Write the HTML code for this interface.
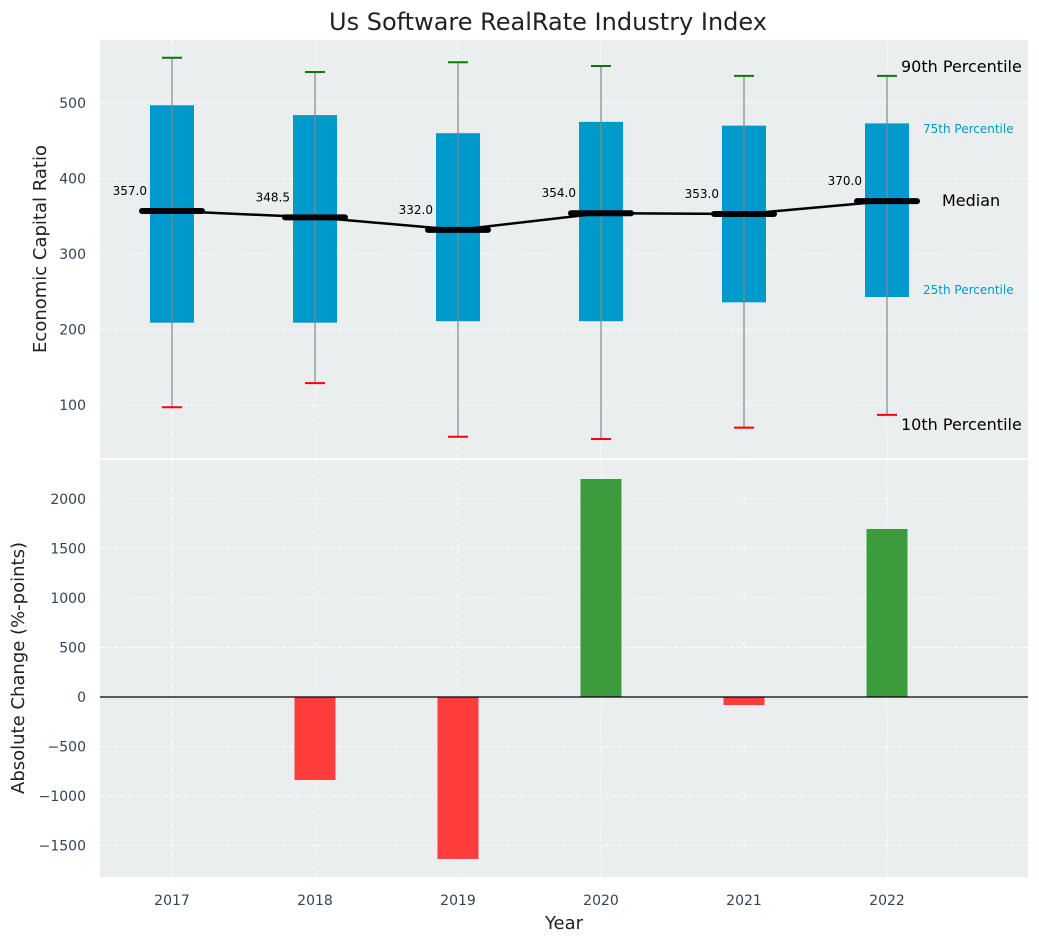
<!DOCTYPE html>
<html><head><meta charset="utf-8">
<style>
body{margin:0;background:#fff;font-family:"Liberation Sans","DejaVu Sans",sans-serif;}
svg text{font-family:"DejaVu Sans","Liberation Sans",sans-serif;}
</style></head>
<body>
<svg id="chart" width="1039" height="942" xmlns="http://www.w3.org/2000/svg">
<text x="548" y="30" text-anchor="middle" font-size="24" fill="#222">Us Software RealRate Industry Index</text>
<rect x="100" y="40" width="928" height="418" fill="#eaeeee"/>
<rect x="100" y="460" width="928" height="417" fill="#eaeeee"/>
<g id="g"></g>
<text x="46" y="249" font-size="18" fill="#222" text-anchor="middle" transform="rotate(-90 46 249)">Economic Capital Ratio</text>
<text x="24" y="668" font-size="18" fill="#222" text-anchor="middle" transform="rotate(-90 24 668)">Absolute Change (%-points)</text>
<text x="564" y="929" font-size="18" fill="#222" text-anchor="middle">Year</text>
<text x="901" y="72" font-size="16" fill="#000">90th Percentile</text>
<text x="923" y="133" font-size="12" fill="#0099cc">75th Percentile</text>
<text x="942" y="206" font-size="16" fill="#000">Median</text>
<text x="923" y="294" font-size="12" fill="#0099cc">25th Percentile</text>
<text x="901" y="430" font-size="16" fill="#000">10th Percentile</text>
</svg>
<script>
const years=[2017,2018,2019,2020,2021,2022];
const p10=[97,129,58,55,70,87];
const q1=[209,209,211,211,236,243];
const medians=[357.0,348.5,332.0,354.0,353.0,370.0];
const q3=[497,484,460,475,470,473];
const p90=[560,541,554,549,536,536];
const changes=[0,-838,-1636,2202,-81,1697];
const topTicks=[100,200,300,400,500];
const bottomTicks=[-1500,-1000,-500,0,500,1000,1500,2000];

const NS="http://www.w3.org/2000/svg";
const g=document.getElementById('g');
function X(v){return 172+(v-2017)*143;}
function YT(v){return 405-(v-100)*0.755;}
function YB(v){return 697-v*0.099;}
function mk(t,a,name,parent){const e=document.createElementNS(NS,t);for(const k in a)e.setAttribute(k,a[k]);


(parent||g).appendChild(e);return e;}
years.forEach(y=>{
mk('line',{x1:X(y),x2:X(y),y1:40,y2:458,stroke:'#fff','stroke-dasharray':'4,3','stroke-width':1},'top-x-grid');
mk('line',{x1:X(y),x2:X(y),y1:460,y2:877,stroke:'#fff','stroke-dasharray':'4,3','stroke-width':1},'bottom-x-grid');
const t=mk('text',{x:X(y),y:905,'font-size':14,fill:'#334455','text-anchor':'middle'},'x-tick-label');t.textContent=y;
});
topTicks.forEach(v=>{
mk('line',{x1:100,x2:1028,y1:YT(v),y2:YT(v),stroke:'#fff','stroke-dasharray':'4,3'},'top-y-grid');
const t=mk('text',{x:86,y:YT(v)+5,'font-size':14,fill:'#334455','text-anchor':'end'},'top-y-tick-label');t.textContent=v;
});
bottomTicks.forEach(v=>{
mk('line',{x1:100,x2:1028,y1:YB(v),y2:YB(v),stroke:'#fff','stroke-dasharray':'4,3'},'bottom-y-grid');
const t=mk('text',{x:86,y:YB(v)+5,'font-size':14,fill:'#334455','text-anchor':'end'},'bottom-y-tick-label');t.textContent=(v<0?'\u2212'+(-v):v);
});
const hw=22;
years.forEach((y,i)=>{
const x=X(y);
mk('rect',{x:x-hw,y:YT(q3[i]),width:2*hw,height:YT(q1[i])-YT(q3[i]),fill:'#0099cc'},'iqr-box');
mk('line',{x1:x,x2:x,y1:YT(p90[i]),y2:YT(p10[i]),stroke:'#888','stroke-width':1.2},'whisker');
mk('line',{x1:x-10,x2:x+10,y1:YT(p90[i]),y2:YT(p90[i]),stroke:'green','stroke-width':2},'p90-cap');
mk('line',{x1:x-10,x2:x+10,y1:YT(p10[i]),y2:YT(p10[i]),stroke:'red','stroke-width':2},'p10-cap');
});
let pts=years.map((y,i)=>X(y)+','+YT(medians[i])).join(' ');
mk('polyline',{points:pts,fill:'none',stroke:'#000','stroke-width':2.5},'median-line');
years.forEach((y,i)=>{
const x=X(y);
mk('line',{x1:x-30,x2:x+30,y1:YT(medians[i]),y2:YT(medians[i]),stroke:'#000','stroke-width':6,'stroke-linecap':'round'},'median-marker');
const t=mk('text',{x:x-25,y:YT(medians[i])-16,'font-size':12,fill:'#000','text-anchor':'end'},'median-value-label');t.textContent=medians[i].toFixed(1);
const c=changes[i];
mk('rect',{x:x-20.5,y:Math.min(YB(c),YB(0)),width:41,height:Math.abs(YB(c)-YB(0)),fill:c>=0?'#3c9c3c':'#ff3c3c'},'change-bar');
});
mk('line',{x1:100,x2:1028,y1:YB(0),y2:YB(0),stroke:'#000','stroke-width':1.2},'zero-line');
</script>
</body></html>
